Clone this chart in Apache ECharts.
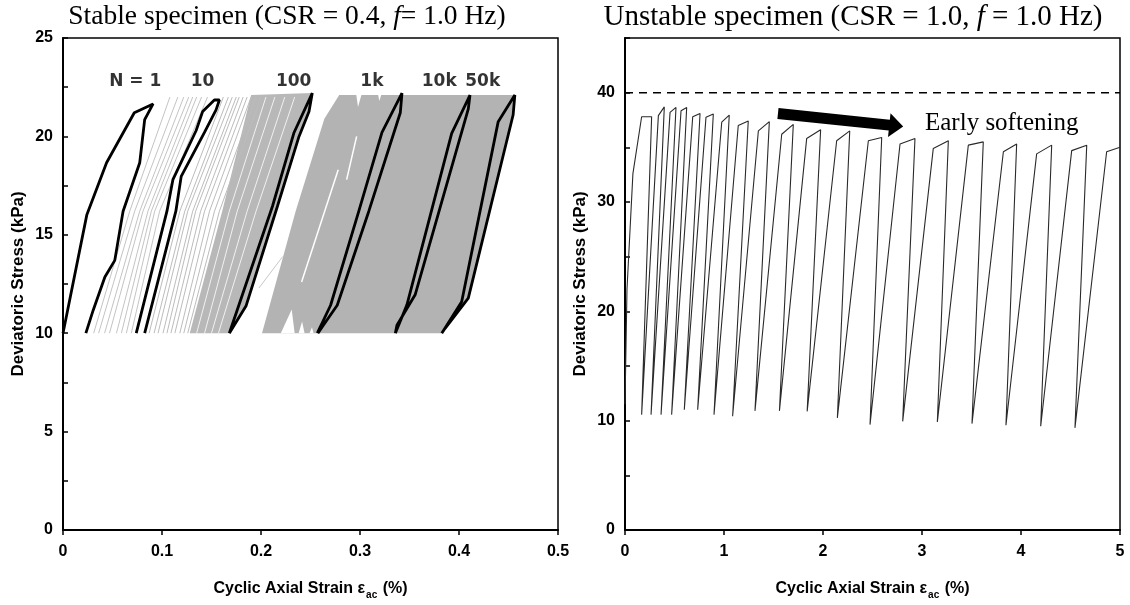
<!DOCTYPE html>
<html><head><meta charset="utf-8">
<script src="https://cdn.jsdelivr.net/npm/echarts@6/dist/echarts.min.js"></script>
<style>html,body{margin:0;padding:0;background:#fff}#c{width:1130px;height:605px}</style>
</head><body><div id="c"></div>
<script>
// ---------- Left panel (stable specimen) ----------
const leftXTicks = [0, 0.1, 0.2, 0.3, 0.4, 0.5];
const leftYTicks = [0, 5, 10, 15, 20, 25];
const loopLabels = ['N = 1', '10', '100', '1k', '10k', '50k'];
const loopLabelPos = [[0.073, 22.8], [0.141, 22.8], [0.233, 22.8], [0.312, 22.8], [0.380, 22.8], [0.424, 22.8]];

const loopN1 = [[0,10],[0.024,16.0],[0.044,18.66],[0.072,21.2],[0.091,21.65],[0.0825,20.85],[0.0775,18.66],[0.0607,16.2],[0.0523,13.7],[0.0423,12.86],[0.0305,11.17],[0.0231,10]];
const loopN10 = [[0.074,10],[0.105,16.2],[0.111,17.8],[0.1345,20.3],[0.1411,21.27],[0.1529,21.85],[0.158,21.85],[0.1546,21.35],[0.1429,20.2],[0.1194,17.97],[0.114,16.2],[0.0825,10]];
const loopN100 = [[0.168,10],[0.2116,16.45],[0.2334,20.2],[0.2518,22.2],[0.2485,21.27],[0.2384,20.0],[0.2166,16.45],[0.185,11.4],[0.168,10]];
const loopN1k = [[0.2569,10],[0.2703,11.42],[0.2988,16.2],[0.3222,20.2],[0.3424,22.2],[0.3407,21.2],[0.3089,16.2],[0.277,11.42],[0.263,10.4],[0.2575,10]];
const loopN10k = [[0.3357,10],[0.3474,11.44],[0.3926,20.15],[0.4111,22.1],[0.4094,21.4],[0.3557,11.95],[0.3373,10.4],[0.3357,10]];
const loopN50k = [[0.3826,10],[0.4027,11.6],[0.4396,20.75],[0.4564,22.1],[0.4547,21.1],[0.4094,11.78],[0.386,10.25],[0.3826,10]];

// sparse grey cycles between N=1 and N=10 : x at stress 10, 16.2 and 22 kPa
const sparseBottom = [0.031,0.036,0.042,0.047,0.054,0.059,0.064,0.069];
const sparseMid    = [0.0674,0.0724,0.0775,0.0808,0.0858,0.0892,0.0926,0.0976];
const sparseTop    = [0.108,0.116,0.122,0.127,0.131,0.135,0.140,0.146];
// grey cycles between N=10 and the dense band
const midBottom = [0.087,0.092,0.096,0.101,0.105,0.109,0.113,0.118,0.122,0.126];
const midMid    = [0.118,0.123,0.126,0.131,0.134,0.139,0.143,0.148,0.153,0.158];
const midTop    = [0.162,0.167,0.171,0.175,0.178,0.182,0.186,0.190,0.195,0.200];
// white streaks inside the dense band N=10..100
const streakBottom = [0.135,0.143,0.150,0.157];
const streakMid    = [0.168,0.176,0.186,0.195];
const streakTop    = [0.205,0.214,0.224,0.234];
const cycleStress = [10, 16.2, 22];

// dense grey regions (envelopes of overlapping cycles)
const bandA = [[0.128,10],[0.161,16.24],[0.19,22.1],[0.2518,22.2],[0.2485,21.27],[0.2384,20.0],[0.2166,16.45],[0.185,11.4],[0.168,10]];
const bandB = [[0.201,10],[0.235,16.2],[0.264,20.9],[0.279,22.1],[0.4564,22.1],[0.4547,21.1],[0.4094,11.78],[0.386,10.25],[0.3826,10]];
const whiteNotches = [
  [[0.220,10],[0.234,10],[0.231,11.2]],
  [[0.238,10],[0.244,10],[0.2415,10.6]],
  [[0.249,10],[0.253,10],[0.2515,10.3]],
  [[0.296,22.2],[0.302,22.2],[0.298,21.5]],
  [[0.318,22.2],[0.322,22.2],[0.3195,21.8]]
];
const whiteStreaks = [
  [[0.241,12.6],[0.278,18.3]],
  [[0.2865,17.8],[0.2966,20.0]]
];
const wedgeLine = [[0.198,12.3],[0.222,13.9]];

// ---------- Right panel (unstable specimen) ----------
const rightXTicks = [0, 1, 2, 3, 4, 5];
const rightYTicks = [0, 10, 20, 30, 40];
const startPts = [[0,11.5],[0.02,22],[0.08,32.6]];
const kneeX = [0.168,0.337,0.455,0.566,0.684,0.818,0.977,1.144,1.347,1.583,1.835,2.138,2.458,2.778,3.114,3.468,3.822,4.158,4.512,4.865];
const kneeY = [37.8,37.9,38.2,38.35,37.8,37.75,37.3,37.0,36.5,36.2,35.8,35.6,35.6,35.3,34.9,35.2,34.6,34.4,34.7,34.6];
const apexX = [0.269,0.397,0.515,0.623,0.758,0.892,1.053,1.245,1.458,1.70,1.976,2.27,2.593,2.929,3.266,3.619,3.956,4.31,4.664,5.0];
const apexY = [37.8,38.7,38.65,38.65,38.1,38.05,37.95,37.4,37.35,37.1,36.6,36.5,35.9,35.8,35.6,35.5,35.3,35.2,35.2,35.0];
const troughX = [0.168,0.263,0.364,0.471,0.599,0.734,0.899,1.087,1.313,1.56,1.84,2.145,2.475,2.805,3.155,3.505,3.848,4.199,4.545];
const troughY = [10.55,10.55,10.55,10.55,11.0,11.0,10.55,10.4,10.9,10.9,10.85,10.25,9.64,9.94,9.88,9.73,9.58,9.49,9.34];
const failureLine = [[0,40],[5,40]];
const arrowFrom = [1.545, 38.1];
const arrowTo = [2.81, 36.9];

// ---------- build ----------
const SANS = "'Liberation Sans Narrow','Liberation Sans',Arial,sans-serif";
const SERIF = "'Liberation Serif','Times New Roman',serif";

const curve = startPts.slice();
for (let i = 0; i < kneeX.length; i++) {
  curve.push([kneeX[i], kneeY[i]]);
  curve.push([apexX[i], apexY[i]]);
  if (i < troughX.length) curve.push([troughX[i], troughY[i]]);
}

function polySeries(pts, color, xi, z) {
  return {
    type: 'custom', xAxisIndex: xi, yAxisIndex: xi, z: z, silent: true,
    data: [[pts[0][0], pts[0][1]]],
    renderItem: function (params, api) {
      return { type: 'polygon', shape: { points: pts.map(p => api.coord(p)) }, style: { fill: color } };
    }
  };
}
function lineSeries(pts, color, width, xi, z, dash) {
  return {
    type: 'line', xAxisIndex: xi, yAxisIndex: xi, z: z, silent: true,
    data: pts, showSymbol: false, symbol: 'none', animation: false,
    lineStyle: { color: color, width: width, type: dash || 'solid' }
  };
}

const series = [];
series.push(polySeries(bandA, '#b8b8b8', 0, 1));
series.push(polySeries(bandB, '#b3b3b3', 0, 1));
whiteNotches.forEach(n => series.push(polySeries(n, '#ffffff', 0, 2)));
whiteStreaks.forEach(s => series.push(lineSeries(s, '#ffffff', 1.5, 0, 2)));
for (let i = 0; i < streakBottom.length; i++) {
  series.push(lineSeries([[streakBottom[i],cycleStress[0]],[streakMid[i],cycleStress[1]],[streakTop[i],cycleStress[2]]], '#ffffff', 0.8, 0, 2));
}
for (let i = 0; i < sparseBottom.length; i++) {
  series.push(lineSeries([[sparseBottom[i],cycleStress[0]],[sparseMid[i],cycleStress[1]],[sparseTop[i],cycleStress[2]]], '#c4c4c4', 1, 0, 3));
}
for (let i = 0; i < midBottom.length; i++) {
  series.push(lineSeries([[midBottom[i],cycleStress[0]],[midMid[i],cycleStress[1]],[midTop[i],cycleStress[2]]], '#bcbcbc', 1, 0, 3));
}
series.push(lineSeries(wedgeLine, '#c8c8c8', 1, 0, 3));
[loopN1, loopN10, loopN100, loopN1k, loopN10k, loopN50k].forEach(l => series.push(lineSeries(l, '#000', 2.8, 0, 5)));
series.push({
  type: 'scatter', xAxisIndex: 0, yAxisIndex: 0, z: 6, symbolSize: 0, silent: true,
  data: loopLabelPos.map((p, i) => ({ value: p, name: loopLabels[i] })),
  label: { show: true, position: 'inside', formatter: p => p.name, color: '#000',
           fontFamily: "'DejaVu Sans',Verdana,sans-serif", fontWeight: 'bold', fontSize: 17 }
});

// right panel
series.push(lineSeries(curve, '#2a2a2a', 1.1, 1, 3));
series.push(lineSeries(failureLine, '#000', 1.5, 1, 3, [8, 6]));
series.push({
  type: 'custom', xAxisIndex: 1, yAxisIndex: 1, z: 6, silent: true,
  data: [[arrowFrom[0], arrowFrom[1]]],
  renderItem: function (params, api) {
    const a = api.coord(arrowFrom), b = api.coord(arrowTo);
    const dx = b[0] - a[0], dy = b[1] - a[1], L = Math.hypot(dx, dy);
    const ux = dx / L, uy = dy / L, nx = -uy, ny = ux;
    const hw = 5.5, headL = 14, headW = 12;
    const bx = b[0] - ux * headL, by = b[1] - uy * headL;
    return { type: 'polygon', shape: { points: [
      [a[0] + nx * hw, a[1] + ny * hw], [bx + nx * hw, by + ny * hw], [bx + nx * headW, by + ny * headW],
      [b[0], b[1]], [bx - nx * headW, by - ny * headW], [bx - nx * hw, by - ny * hw], [a[0] - nx * hw, a[1] - ny * hw]
    ] }, style: { fill: '#000' } };
  }
});

function fmtNum(v) { return String(+v.toFixed(2)); }
const xName = '{t|Cyclic Axial Strain ε}{s|ac}{t| (%)}';
const nameRich = {
  t: { fontFamily: SANS, fontWeight: 'bold', fontSize: 16, color: '#000', lineHeight: 22 },
  s: { fontFamily: SANS, fontWeight: 'bold', fontSize: 10, color: '#000', verticalAlign: 'bottom', padding: [9, 1, 0, 1] }
};
function xAxisCfg(gi, min, max, interval, ticks) {
  return {
    gridIndex: gi, type: 'value', min: min, max: max, interval: interval,
    axisLine: { onZero: false, lineStyle: { color: '#000', width: 2 } },
    axisTick: { show: true, length: 5, lineStyle: { color: '#000', width: 1.5 } },
    axisLabel: { color: '#000', fontFamily: SANS, fontWeight: 'bold', fontSize: 16, margin: 14,
                 formatter: v => ticks.some(t => Math.abs(t - v) < 1e-9) ? fmtNum(v) : '' },
    splitLine: { show: false },
    name: xName, nameLocation: 'middle', nameGap: 48, nameTextStyle: { rich: nameRich }
  };
}
function yAxisCfg(gi, min, max, interval, ticks) {
  return {
    gridIndex: gi, type: 'value', min: min, max: max, interval: interval,
    axisLine: { onZero: false, lineStyle: { color: '#000', width: 2 } },
    axisTick: { show: true, inside: true, length: 5, lineStyle: { color: '#000', width: 1.5 } },
    axisLabel: { color: '#000', fontFamily: SANS, fontWeight: 'bold', fontSize: 16, margin: 10,
                 formatter: v => ticks.some(t => Math.abs(t - v) < 1e-9) ? fmtNum(v) : '' },
    splitLine: { show: false },
    name: 'Deviatoric Stress (kPa)', nameLocation: 'middle', nameGap: 36, nameRotate: 90,
    nameTextStyle: { fontFamily: SANS, fontWeight: 'bold', fontSize: 17, color: '#000' }
  };
}

const option = {
  animation: false,
  backgroundColor: '#fff',
  grid: [
    { left: 63, top: 38, width: 495, height: 495, show: true, borderColor: '#000', borderWidth: 1.5, backgroundColor: 'transparent' },
    { left: 625, top: 38, width: 495, height: 495, show: true, borderColor: '#000', borderWidth: 1.5, backgroundColor: 'transparent' }
  ],
  xAxis: [xAxisCfg(0, 0, 0.5, 0.1, leftXTicks), xAxisCfg(1, 0, 5, 1, rightXTicks)],
  yAxis: [yAxisCfg(0, 0, 25, 2.5, leftYTicks), yAxisCfg(1, 0, 45, 5, rightYTicks)],
  series: series,
  graphic: [
    { type: 'text', x: 287, y: 17, style: { text: '{a|Stable specimen (CSR = 0.4, }{i|f}{a|= 1.0 Hz)}', align: 'center', verticalAlign: 'middle',
      rich: { a: { fontFamily: SERIF, fontSize: 27.5, fill: '#000' }, i: { fontFamily: SERIF, fontSize: 27.5, fontStyle: 'italic', fill: '#000' } } } },
    { type: 'text', x: 853, y: 17, style: { text: '{a|Unstable specimen (CSR = 1.0, }{i|f}{a| = 1.0 Hz)}', align: 'center', verticalAlign: 'middle',
      rich: { a: { fontFamily: SERIF, fontSize: 29, fill: '#000' }, i: { fontFamily: SERIF, fontSize: 29, fontStyle: 'italic', fill: '#000' } } } },
    { type: 'text', x: 925, y: 123, style: { text: 'Early softening', align: 'left', verticalAlign: 'middle', fontFamily: SERIF, fontSize: 25, fill: '#000' } }
  ]
};
const chart = echarts.init(document.getElementById('c'));
chart.setOption(option);
</script></body></html>
